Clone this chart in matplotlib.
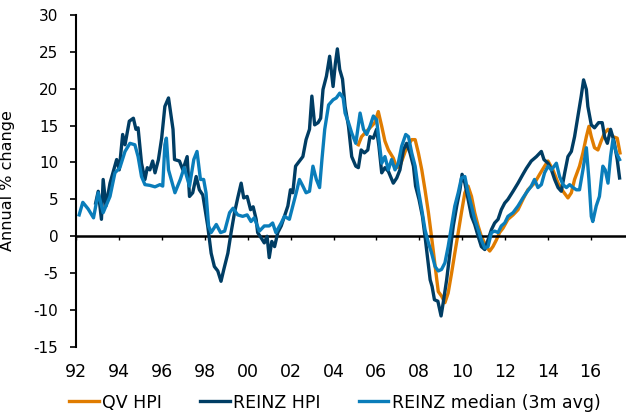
import matplotlib
matplotlib.use('Agg')
import matplotlib.pyplot as plt

plt.rcParams['font.family'] = ['DejaVu Sans']
plt.rcParams['axes.unicode_minus'] = False

# annual % change, dates as decimal years
qv_dates = [2005.16, 2005.31, 2005.47, 2005.7, 2005.93, 2006.09, 2006.25, 2006.4, 2006.56, 2006.79,
            2006.95, 2007.1, 2007.26, 2007.41, 2007.65, 2007.81, 2007.96, 2008.12, 2008.27, 2008.43,
            2008.55, 2008.67, 2008.82, 2008.89, 2009.04, 2009.2, 2009.35, 2009.51, 2009.66, 2009.82,
            2009.97, 2010.13, 2010.28, 2010.44, 2010.59, 2010.75, 2010.9, 2011.13, 2011.29, 2011.44,
            2011.6, 2011.75, 2011.91, 2012.14, 2012.38, 2012.61, 2012.84, 2013.07, 2013.38, 2013.62,
            2013.85, 2014.01, 2014.24, 2014.48, 2014.71, 2014.94, 2015.1, 2015.25, 2015.48, 2015.64,
            2015.8, 2015.92, 2016.03, 2016.18, 2016.34, 2016.49, 2016.65, 2016.81, 2017.04, 2017.24,
            2017.37]
qv_vals = [12.4, 13.5, 14.0, 14.7, 15.4, 16.9, 14.9, 12.9, 11.7, 10.6,
           9.3, 9.5, 10.8, 12.0, 13.1, 13.1, 11.3, 9.0, 6.3, 3.2,
           0.5, -2.3, -5.9, -7.5, -8.1, -9.0, -7.7, -5.0, -2.3, 0.5,
           3.2, 5.9, 6.8, 5.4, 3.2, 1.4, 0.0, -1.4, -2.0, -1.4,
           -0.5, 0.5, 1.1, 2.3, 2.9, 3.6, 5.0, 6.3, 7.2, 8.4,
           9.5, 10.2, 9.0, 7.2, 6.1, 5.2, 5.9, 7.7, 9.5, 11.3,
           13.5, 14.9, 13.5, 12.0, 11.7, 12.9, 14.0, 14.5, 13.5, 13.3,
           11.3]

reinz_dates = [1992.9, 1993.02, 1993.17, 1993.25, 1993.38, 1993.57, 1993.88, 1994.0, 1994.16, 1994.27,
               1994.47, 1994.66, 1994.78, 1994.88, 1995.04, 1995.2, 1995.31, 1995.43, 1995.56, 1995.67,
               1995.83, 1995.98, 1996.13, 1996.3, 1996.51, 1996.58, 1996.81, 1996.97, 1997.17, 1997.28,
               1997.43, 1997.59, 1997.74, 1997.9, 1998.13, 1998.29, 1998.44, 1998.6, 1998.75, 1998.88,
               1999.07, 1999.22, 1999.38, 1999.53, 1999.69, 1999.81, 1999.97, 2000.13, 2000.25, 2000.39,
               2000.46, 2000.62, 2000.77, 2000.9, 2001.0, 2001.12, 2001.25, 2001.4, 2001.56, 2001.71,
               2001.87, 2001.99, 2002.1, 2002.23, 2002.41, 2002.57, 2002.72, 2002.88, 2002.99, 2003.12,
               2003.28, 2003.4, 2003.51, 2003.67, 2003.82, 2003.98, 2004.09, 2004.18, 2004.29, 2004.42,
               2004.54, 2004.7, 2004.85, 2005.04, 2005.16, 2005.29, 2005.44, 2005.6, 2005.7, 2005.86,
               2006.01, 2006.12, 2006.25, 2006.4, 2006.56, 2006.79, 2006.95, 2007.1, 2007.26, 2007.41,
               2007.57, 2007.73, 2007.83, 2007.99, 2008.15, 2008.27, 2008.4, 2008.51, 2008.6, 2008.71,
               2008.87, 2009.02, 2009.12, 2009.28, 2009.43, 2009.59, 2009.75, 2009.9, 2010.0, 2010.13,
               2010.28, 2010.44, 2010.59, 2010.75, 2010.9, 2011.06, 2011.21, 2011.37, 2011.52, 2011.68,
               2011.83, 2011.99, 2012.14, 2012.38, 2012.61, 2012.84, 2013.0, 2013.23, 2013.47, 2013.7,
               2013.82, 2014.01, 2014.17, 2014.32, 2014.48, 2014.63, 2014.79, 2014.94, 2015.1, 2015.25,
               2015.41, 2015.56, 2015.67, 2015.8, 2015.87, 2016.03, 2016.18, 2016.37, 2016.54, 2016.65,
               2016.78, 2016.93, 2017.09, 2017.24, 2017.35]
reinz_vals = [4.5, 6.1, 2.3, 7.7, 4.1, 7.2, 10.4, 9.0, 13.8, 12.4,
              15.6, 16.0, 14.5, 14.7, 9.9, 7.7, 9.3, 9.0, 10.2, 8.6,
              10.4, 13.3, 17.6, 18.75, 14.5, 10.4, 10.2, 9.0, 10.8, 5.4,
              5.9, 8.1, 6.3, 5.6, 1.4, -2.3, -4.1, -4.7, -6.1, -4.5,
              -2.3, 0.5, 3.2, 5.2, 7.2, 5.2, 5.4, 3.6, 4.0, 2.3,
              0.5, -0.2, -0.9, 0.0, -2.9, -0.7, -1.4, 0.5, 1.4, 2.7,
              4.1, 6.3, 5.9, 9.5, 10.2, 10.8, 13.1, 14.5, 19.0, 15.1,
              15.4, 16.0, 19.9, 21.7, 24.4, 20.3, 23.5, 25.4, 22.6, 21.3,
              17.6, 14.9, 10.8, 9.5, 9.3, 11.7, 11.3, 11.7, 13.5, 13.3,
              14.5, 12.2, 8.6, 9.3, 8.8, 7.2, 7.9, 9.0, 11.7, 12.6,
              11.3, 9.5, 6.8, 5.0, 2.7, 0.0, -3.2, -5.9, -6.8, -8.6,
              -8.8, -10.8, -9.0, -5.9, -2.3, 1.4, 4.1, 6.3, 8.4, 7.2,
              5.0, 2.7, 1.6, 0.0, -1.4, -1.8, -0.5, 0.9, 1.8, 2.3,
              3.6, 4.5, 5.0, 6.1, 7.2, 8.4, 9.2, 10.2, 10.8, 11.5,
              10.4, 9.9, 9.0, 7.7, 6.6, 6.1, 8.6, 10.8, 11.5, 13.5,
              16.3, 19.0, 21.2, 19.9, 17.6, 15.1, 14.7, 15.4, 15.4, 13.5,
              12.6, 14.5, 12.9, 10.4, 7.9]

median_dates = [1992.13, 1992.3, 1992.55, 1992.8, 1993.02, 1993.25, 1993.57, 1993.8, 1994.03, 1994.27,
                1994.5, 1994.73, 1994.88, 1995.04, 1995.2, 1995.43, 1995.67, 1995.9, 1996.03, 1996.13,
                1996.2, 1996.3, 1996.6, 1996.85, 1997.03, 1997.28, 1997.48, 1997.63, 1997.79, 1997.94,
                1998.05, 1998.17, 1998.29, 1998.53, 1998.73, 1998.92, 1999.15, 1999.31, 1999.53, 1999.76,
                1999.97, 2000.15, 2000.3, 2000.54, 2000.77, 2001.0, 2001.16, 2001.31, 2001.56, 2001.71,
                2001.94, 2002.1, 2002.26, 2002.41, 2002.57, 2002.72, 2002.88, 2003.04, 2003.2, 2003.35,
                2003.46, 2003.59, 2003.77, 2003.98, 2004.13, 2004.29, 2004.45, 2004.54, 2004.7, 2004.85,
                2005.04, 2005.24, 2005.4, 2005.55, 2005.7, 2005.86, 2006.01, 2006.12, 2006.25, 2006.4,
                2006.56, 2006.71, 2006.87, 2007.02, 2007.18, 2007.37, 2007.5, 2007.65, 2007.81, 2007.96,
                2008.12, 2008.27, 2008.43, 2008.58, 2008.74, 2008.89, 2009.04, 2009.2, 2009.35, 2009.51,
                2009.66, 2009.82, 2009.97, 2010.13, 2010.28, 2010.44, 2010.59, 2010.75, 2010.9, 2011.06,
                2011.21, 2011.37, 2011.52, 2011.68, 2011.83, 2011.99, 2012.14, 2012.38, 2012.61, 2012.84,
                2013.0, 2013.23, 2013.38, 2013.54, 2013.7, 2013.85, 2014.01, 2014.17, 2014.4, 2014.55,
                2014.71, 2014.87, 2015.02, 2015.18, 2015.33, 2015.48, 2015.64, 2015.8, 2015.92, 2016.03,
                2016.1, 2016.26, 2016.41, 2016.57, 2016.68, 2016.81, 2016.93, 2017.04, 2017.2, 2017.35]
median_vals = [2.9, 4.6, 3.7, 2.5, 5.9, 3.2, 5.4, 8.6, 9.3, 11.5,
               12.6, 12.4, 10.8, 8.1, 7.0, 6.9, 6.7, 7.0, 6.8, 12.4,
               13.3, 9.0, 5.9, 7.7, 9.3, 6.8, 10.4, 11.5, 7.7, 7.7,
               5.9, 1.4, 0.5, 1.6, 0.5, 0.7, 3.2, 3.8, 2.9, 2.7,
               2.9, 2.0, 2.5, 0.7, 1.4, 1.4, 1.8, 0.5, 1.8, 2.7,
               2.3, 4.1, 5.9, 7.7, 6.8, 5.9, 6.1, 9.5, 7.7, 6.6,
               10.4, 14.5, 17.8, 18.5, 18.75, 19.4, 18.75, 16.7, 15.4, 14.0,
               12.6, 16.7, 14.5, 13.8, 14.9, 16.3, 15.8, 13.1, 9.9, 10.8,
               9.0, 10.4, 9.0, 9.9, 12.2, 13.8, 13.5, 11.3, 9.5, 6.3,
               3.6, 0.9, -0.9, -2.3, -4.1, -4.7, -4.5, -3.6, -1.4, 1.4,
               4.1, 5.9, 7.9, 8.1, 5.9, 4.1, 2.3, 0.9, -0.5, -1.6,
               -1.4, 0.5, 0.7, 0.5, 1.4, 1.8, 2.7, 3.2, 4.1, 5.2,
               5.9, 6.8, 7.7, 6.6, 7.0, 8.6, 9.5, 9.0, 9.9, 8.1,
               7.0, 6.6, 7.0, 6.6, 6.3, 6.3, 9.0, 12.0, 7.7, 2.7,
               2.0, 4.1, 5.4, 9.5, 9.0, 7.2, 10.8, 13.1, 11.3, 10.4]

year_ticks = list(range(1992, 2017, 2))
year_labels = ['92', '94', '96', '98', '00', '02', '04', '06', '08', '10', '12', '14', '16']

fig = plt.figure(figsize=(6.26, 4.15), dpi=100)
ax = fig.add_axes([0.122, 0.164, 0.878, 0.8])

line_qv, = ax.plot(qv_dates, qv_vals, color='#E07C00', lw=2.4, zorder=2)
line_reinz, = ax.plot(reinz_dates, reinz_vals, color='#003D64', lw=2.4, zorder=3)
line_med, = ax.plot(median_dates, median_vals, color='#0A7DBA', lw=2.4, zorder=4)

ax.set_xlim(1992, 2017.65)
ax.set_ylim(-15, 30)
ax.set_yticks(range(-15, 31, 5))
ax.set_xticks(year_ticks)
ax.set_xticklabels(year_labels)

for s in ['top', 'right']:
    ax.spines[s].set_visible(False)
ax.spines['left'].set_linewidth(1.5)
ax.spines['bottom'].set_position(('data', 0))
ax.spines['bottom'].set_linewidth(1.8)

ax.tick_params(axis='y', direction='out', length=4, width=1.2, labelsize=11, pad=9)
ax.tick_params(axis='x', direction='out', length=3, width=1.0, labelsize=12.5, pad=88)

ax.set_ylabel('Annual % change', fontsize=11.5)
ax.yaxis.set_label_coords(-0.112, 0.5)

fig.legend([line_qv, line_reinz, line_med], ['QV HPI', 'REINZ HPI', 'REINZ median (3m avg)'],
           loc='center', bbox_to_anchor=(0.535, 0.03), ncol=3, frameon=False,
           fontsize=12.5, handlelength=1.7, handletextpad=0.2, columnspacing=2.2,
           borderaxespad=0)

fig.savefig('out.png', dpi=100)
